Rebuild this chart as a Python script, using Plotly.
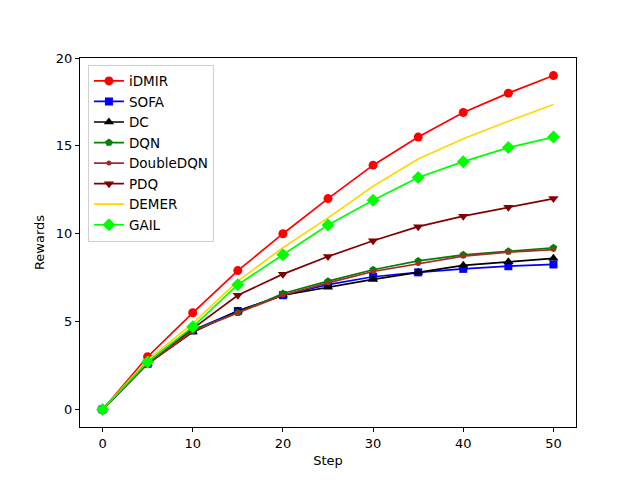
import plotly.graph_objects as go

steps = [0, 5, 10, 15, 20, 25, 30, 35, 40, 45, 50]

idmir = [0, 3.0, 5.5, 7.9, 10.0, 12.0, 13.9, 15.5, 16.9, 18.0, 19.0]
sofa = [0, 2.6, 4.5, 5.6, 6.5, 7.1, 7.55, 7.8, 8.0, 8.15, 8.25]
dc = [0, 2.6, 4.4, 5.6, 6.5, 6.95, 7.4, 7.8, 8.2, 8.4, 8.6]
dqn = [0, 2.65, 4.5, 5.5, 6.6, 7.3, 7.95, 8.45, 8.8, 9.0, 9.2]
double_dqn = [0, 2.6, 4.45, 5.5, 6.5, 7.2, 7.85, 8.3, 8.72, 8.95, 9.1]
pdq = [0, 2.7, 4.6, 6.5, 7.7, 8.7, 9.6, 10.4, 11.0, 11.5, 12.0]
demer = [0, 2.8, 4.9, 7.3, 9.2, 10.9, 12.7, 14.25, 15.4, 16.4, 17.35]
gail = [0, 2.7, 4.7, 7.1, 8.8, 10.5, 11.9, 13.2, 14.1, 14.9, 15.5]

# name, values, colour, marker symbol, marker size
series = [
    ("iDMIR", idmir, "red", "circle", 9),
    ("SOFA", sofa, "blue", "square", 8),
    ("DC", dc, "black", "triangle-up", 9),
    ("DQN", dqn, "green", "pentagon", 8),
    ("DoubleDQN", double_dqn, "brown", "circle", 5),
    ("PDQ", pdq, "#800000", "triangle-down", 9),
    ("DEMER", demer, "gold", None, 0),
    ("GAIL", gail, "lime", "diamond", 10),
]

fig = go.Figure()
for name, vals, color, symbol, size in series:
    if symbol is None:
        fig.add_trace(go.Scatter(x=steps, y=vals, name=name, mode="lines",
                                 line=dict(color=color, width=1.7)))
    else:
        fig.add_trace(go.Scatter(x=steps, y=vals, name=name, mode="lines+markers",
                                 line=dict(color=color, width=1.7),
                                 marker=dict(symbol=symbol, size=size, color=color)))

axis_style = dict(
    showline=True, linecolor="black", linewidth=1, mirror=True,
    ticks="outside", ticklen=4, tickcolor="black",
    showgrid=False, zeroline=False,
    tickfont=dict(size=13, color="black"),
    title_font=dict(size=13, color="black"),
)

# the page body has an 8px margin, so the figure is shrunk by that much
fig.update_layout(
    width=632, height=472,
    margin=dict(l=72, r=64, t=50, b=53),
    plot_bgcolor="white", paper_bgcolor="white",
    font=dict(family="DejaVu Sans", size=13, color="black"),
    showlegend=True,
    legend=dict(
        x=0.016, y=0.982, xanchor="left", yanchor="top",
        bordercolor="#d0d0d0", borderwidth=1, bgcolor="rgba(255,255,255,0.8)",
        font=dict(size=13.5), tracegroupgap=0, itemwidth=30,
    ),
)
fig.update_xaxes(range=[-2.5, 52.5], tickvals=[0, 10, 20, 30, 40, 50],
                 title_text="Step", title_standoff=6, **axis_style)
fig.update_yaxes(range=[-1, 20], tickvals=[0, 5, 10, 15, 20],
                 title_text="Rewards", title_standoff=8, **axis_style)

fig.write_html("out.html")
